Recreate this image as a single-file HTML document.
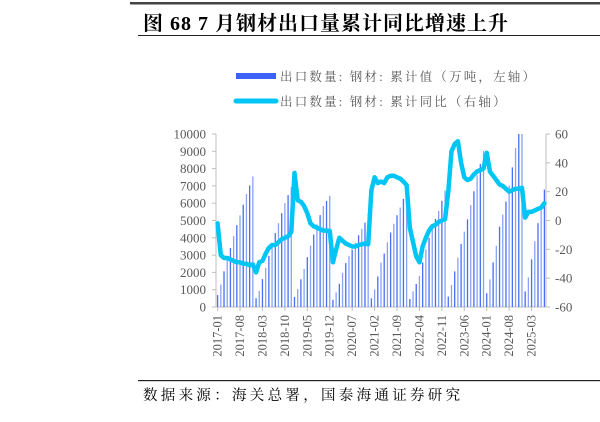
<!DOCTYPE html>
<html><head><meta charset="utf-8"><style>
body{margin:0;background:#fff;width:600px;height:417px;overflow:hidden;}
svg text{font-family:"Liberation Serif","Noto Serif CJK SC",serif;}
</style></head><body>
<svg id="c" width="600" height="417" xmlns="http://www.w3.org/2000/svg">
<rect x="130" y="2" width="470" height="2.5" fill="#444"/>
<text x="143" y="30" font-size="20" font-weight="bold" letter-spacing="1" fill="#000">图 68 7 月钢材出口量累计同比增速上升</text>
<rect x="138" y="35" width="462" height="1" fill="#222"/>
<g>
<rect x="236" y="73" width="40" height="6" fill="#3d63f5"/>
<text x="280" y="81" font-size="12.5" letter-spacing="2.2" fill="#595959">出口数量: 钢材: 累计值（万吨，左轴）</text>
<line x1="236" y1="101" x2="276" y2="101" stroke="#00c5f5" stroke-width="5" stroke-linecap="round"/>
<text x="280" y="106" font-size="12.5" letter-spacing="2.2" fill="#595959">出口数量: 钢材: 累计同比（右轴）</text>
</g>
<g id="plot"></g>
<rect x="138" y="380" width="462" height="1.2" fill="#222"/>
<text x="143" y="400" font-size="14.5" letter-spacing="3.3" fill="#000">数据来源：海关总署，国泰海通证券研究</text>
</svg>
<script>
const startYear = 2017;
const volume = [
689,1303,2063,2723,3413,4094,4733,5297,5918,6533,7025,7543,
503,929,1614,2267,2958,3581,4274,4844,5428,6004,6468,6934,
582,1035,1602,2197,2884,3546,4183,4778,5311,5832,6124,6429,
419,842,1341,1977,2539,2950,3311,3707,4148,4515,4875,5367,
500,1010,1764,2561,3088,3738,4305,4810,5303,5752,6250,6690,
460,912,1330,1798,2574,3329,3996,4519,5095,5555,6139,6732,
600,1267,2057,2851,3637,4358,5066,5893,6689,7618,8266,9026,
800,1591,2580,3536,4643,5340,6093,7018,8072,9190,10177,11072,
900,1705,2754,3800,4848,5815,6789];
const yoy = [
-2,-24,-26,-26,-27,-28,-29,-29,-30,-30,-31,-30.5,
-36,-29,-28,-23,-19,-17,-17,-15,-13,-12,-11,-8,
33,14,13,10,5,-2,-4,-5,-6,-7,-7,-7.3,
-29,-20,-12,-14,-16,-17,-18,-18,-17,-16.5,-16,-16.5,
21,30,26,27,26,30,31,31,30,29,27,24.6,
-5,-15,-25,-29,-18,-12,-7,-4,-3,-1,0,1,
20,48,53,55,40,30,28,29,32,34,35,36,
47,34,31,28,25,24,22,20,21,22,22,22.7,
2,6,6,7,8,9,12];
const leftTicks = [0,1000,2000,3000,4000,5000,6000,7000,8000,9000,10000];
const rightTicks = [-60,-40,-20,0,20,40,60];

const NS="http://www.w3.org/2000/svg";
const g=document.getElementById('plot');
const X0=216,X1=546,Y0=307,Y1=134;
const n=volume.length, w=(X1-X0)/n;
const xc=i=>X0+(i+0.5)*w;
const yl=v=>Y0-(Math.min(v,10000)/10000)*(Y0-Y1);
const yr=v=>Y0-((v+60)/120)*(Y0-Y1);
function mk(t,a){const e=document.createElementNS(NS,t);for(const k in a)e.setAttribute(k,a[k]);g.appendChild(e);return e;}
function lab(i){const y=startYear+Math.floor(i/12),m=i%12+1;return y+'-'+(m<10?'0':'')+m;}
let e=mk('line',{x1:X0,y1:Y1,x2:X0,y2:Y0,stroke:'#bfbfbf'});


e=mk('line',{x1:X1,y1:Y1,x2:X1,y2:Y0,stroke:'#bfbfbf'});


e=mk('line',{x1:X0,y1:Y0,x2:X1,y2:Y0,stroke:'#bfbfbf'});


leftTicks.forEach(v=>{
  const y=yl(v);
  mk('line',{x1:X0-4,y1:y,x2:X0,y2:y,stroke:'#bfbfbf'});
  const t=mk('text',{x:X0-10,y:y+4.5,'font-size':13,'text-anchor':'end',fill:'#595959'});
  t.textContent=v;
  
  
});
rightTicks.forEach(v=>{
  const y=yr(v);
  mk('line',{x1:X1,y1:y,x2:X1+4,y2:y,stroke:'#bfbfbf'});
  const t=mk('text',{x:X1+9,y:y+4.5,'font-size':13,fill:'#595959'});
  t.textContent=v;
  
  
});
volume.forEach((v,i)=>{
  const y=yl(v);
  const r=mk('rect',{x:xc(i)-0.65,y:y,width:1.3,height:Y0-y,fill:i%2?'#8aa3f6':'#4a6ef5'});
  
  
});
for(let i=0;i<n;i+=7){
  const x=xc(i);
  mk('line',{x1:x,y1:Y0,x2:x,y2:Y0+4,stroke:'#bfbfbf'});
  const t=mk('text',{x:0,y:0,'font-size':12.5,'text-anchor':'end',fill:'#595959',transform:`translate(${x+4},${Y0+8}) rotate(-90)`});
  t.textContent=lab(i);
  
  
}
const p=mk('polyline',{points:yoy.map((v,i)=>xc(i)+','+yr(v)).join(' '),fill:'none',stroke:'#00c5f5','stroke-width':4.5,'stroke-linejoin':'round','stroke-linecap':'round'});


</script>
</body></html>
